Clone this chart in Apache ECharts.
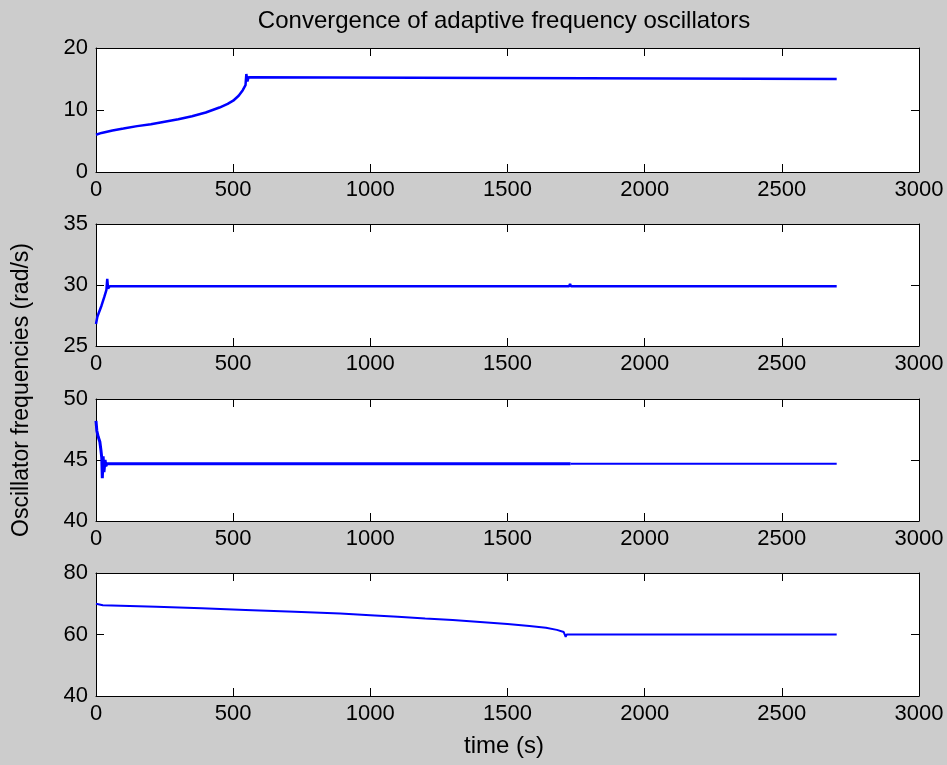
<!DOCTYPE html>
<html>
<head>
<meta charset="utf-8">
<script src="https://cdn.jsdelivr.net/npm/echarts@6/dist/echarts.min.js"></script>
<style>
  html, body { margin: 0; padding: 0; background: #cccccc; }
  #chart { width: 947px; height: 765px; }
</style>
</head>
<body>
<div id="chart"></div>
<script>
// Oscillator 1 (converges to ~15 rad/s)
const time1 = [0, 20, 60, 100, 150, 200, 250, 300, 350, 400, 450, 480, 500, 520, 535, 545, 548, 552, 556, 560, 2700];
const freq1 = [6.0, 6.3, 6.7, 7.0, 7.4, 7.7, 8.1, 8.5, 9.0, 9.6, 10.4, 11.0, 11.5, 12.3, 13.2, 14.0, 15.8, 14.6, 15.3, 15.0, 15.0];

// Oscillator 2 (converges to ~30 rad/s)
const time2 = [0, 5, 10, 20, 30, 38, 41, 44, 50, 1725, 1728, 1731, 2700];
const freq2 = [26.8, 27.4, 27.7, 28.3, 29.0, 29.6, 30.5, 29.7, 29.9, 29.9, 30.1, 29.9, 29.9];

// Oscillator 3 (converges to ~45 rad/s)
const time3 = [0, 3, 8, 14, 18, 21, 23, 26, 29, 33, 36, 40, 1730];
const freq3 = [48.2, 47.4, 46.9, 46.5, 45.8, 45.2, 43.5, 45.3, 44.0, 45.0, 44.5, 44.7, 44.7];
const time3b = [1730, 2700];
const freq3b = [44.7, 44.7];

// Oscillator 4 (converges to ~60 rad/s)
const time4 = [0, 25, 220, 385, 545, 725, 890, 1000, 1100, 1200, 1300, 1400, 1500, 1580, 1640, 1680, 1705, 1712, 1716, 2700];
const freq4 = [70.0, 69.5, 69.0, 68.5, 68.0, 67.4, 66.8, 66.3, 65.8, 65.2, 64.7, 64.1, 63.4, 62.8, 62.2, 61.5, 60.8, 59.2, 60.0, 60.0];

// Axis ranges per panel
const xRange = [0, 3000, 500];
const yRanges = [[0, 20, 10], [25, 35, 5], [40, 50, 5], [40, 80, 20]];

const titleText = 'Convergence of adaptive frequency oscillators';
const yLabelText = 'Oscillator frequencies (rad/s)';
const xLabelText = 'time (s)';

const FONT = '"Liberation Sans", Arial, sans-serif';
const BLUE = '#0000ff';
const panelTops = [48, 224, 399, 573];
const panelHeights = [124, 122, 122, 123];

const pairs = (t, v) => t.map((x, i) => [x, v[i]]);
const plain = (v) => String(v);

const grids = [], xAxes = [], yAxes = [];
panelTops.forEach((top, i) => {
  grids.push({ left: 96, right: 28, top: top, height: panelHeights[i], show: true, backgroundColor: '#ffffff', borderWidth: 0 });
  const baseX = {
    type: 'value', gridIndex: i, min: xRange[0], max: xRange[1], interval: xRange[2],
    axisLine: { show: true, onZero: false, lineStyle: { color: '#000', width: 1 } },
    axisTick: { show: true, inside: true, length: 8, lineStyle: { color: '#000' } },
    splitLine: { show: false }
  };
  xAxes.push(Object.assign({}, baseX, {
    position: 'bottom',
    axisLabel: { show: true, margin: 7, color: '#000', fontFamily: FONT, fontSize: 22, formatter: plain }
  }));
  xAxes.push(Object.assign({}, baseX, { position: 'top', axisLabel: { show: false } }));
  const r = yRanges[i];
  const baseY = {
    type: 'value', gridIndex: i, min: r[0], max: r[1], interval: r[2],
    axisLine: { show: true, onZero: false, lineStyle: { color: '#000', width: 1 } },
    axisTick: { show: true, inside: true, length: 8, lineStyle: { color: '#000' } },
    splitLine: { show: false }
  };
  yAxes.push(Object.assign({}, baseY, {
    position: 'left',
    axisLabel: { show: true, margin: 8, color: '#000', fontFamily: FONT, fontSize: 22, formatter: plain }
  }));
  yAxes.push(Object.assign({}, baseY, { position: 'right', axisLabel: { show: false } }));
});

const lineSeries = (gi, data, width) => ({
  type: 'line', xAxisIndex: gi * 2, yAxisIndex: gi * 2, data: data,
  showSymbol: false, symbol: 'none', animation: false,
  lineStyle: { color: BLUE, width: width }
});

const option = {
  backgroundColor: '#cccccc',
  animation: false,
  title: {
    text: titleText, left: 499, top: 4, textAlign: 'center',
    textStyle: { color: '#000', fontFamily: FONT, fontSize: 24, fontWeight: 'normal' }
  },
  grid: grids,
  xAxis: xAxes,
  yAxis: yAxes,
  series: [
    lineSeries(0, pairs(time1, freq1), 2.5),
    lineSeries(1, pairs(time2, freq2), 2.5),
    lineSeries(2, pairs(time3, freq3), 3),
    lineSeries(2, pairs(time3b, freq3b), 2),
    lineSeries(3, pairs(time4, freq4), 2)
  ],
  graphic: [
    {
      type: 'text', x: 22, y: 390, rotation: Math.PI / 2,
      style: { text: yLabelText, fill: '#000', font: '23px ' + FONT, textAlign: 'center', textVerticalAlign: 'middle' }
    },
    {
      type: 'text', x: 504, y: 746,
      style: { text: xLabelText, fill: '#000', font: '24px ' + FONT, textAlign: 'center', textVerticalAlign: 'middle' }
    }
  ]
};

const chart = echarts.init(document.getElementById('chart'), null, { renderer: 'canvas' });
chart.setOption(option);
</script>
</body>
</html>
